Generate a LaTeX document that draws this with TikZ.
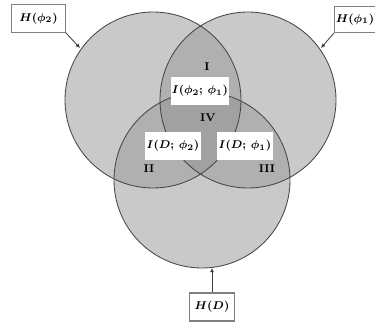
\documentclass[tikz,border=0pt]{standalone}
\usepackage{amsmath}
\usetikzlibrary{arrows.meta}
\definecolor{onegray}{gray}{.79}
\definecolor{twogray}{gray}{.69}
\definecolor{threegray}{gray}{.63}
\tikzset{
	outline/.style={draw=gray!55!black, line width=.6pt},
	entropybox/.style={draw=gray, fill=white, line width=.8pt, inner sep=1pt, font=\footnotesize\boldmath},
	mutualbox/.style={fill=white, minimum width=1.38cm, minimum height=.68cm, inner sep=1pt, font=\footnotesize\boldmath},
	region/.style={font=\footnotesize\bfseries},
	pointer/.style={draw=gray!50!black, line width=.6pt, -{Latex[length=3pt,width=3pt]}}
}
\newcommand{\setphitwo}{(153,100) circle (88)}
\newcommand{\setphione}{(248,100) circle (88)}
\newcommand{\setd}{(202,180) circle (88)}
\begin{document}
\begin{tikzpicture}[x=.025cm, y=-.025cm]
		\useasboundingbox (0,0) rectangle (375,322);
		% the three sets and their overlaps
		\fill [onegray] \setphitwo;
		\fill [onegray] \setphione;
		\fill [onegray] \setd;
		\begin{scope}
			\clip \setphitwo;
			\fill [twogray] \setphione;
			\fill [twogray] \setd;
		\end{scope}
		\begin{scope}
			\clip \setphione;
			\fill [twogray] \setd;
		\end{scope}
		\begin{scope}
			\clip \setphitwo;
			\clip \setphione;
			\fill [threegray] \setd;
		\end{scope}
		\draw [outline] \setphitwo;
		\draw [outline] \setphione;
		\draw [outline] \setd;
		% labels of the regions
		\node [region] (rone) at (207,67) {I};
		\node [region] (rfour) at (208,118) {IV};
		\node [region] (rtwo) at (149,169) {II};
		\node [region] (rthree) at (267,169) {III};
		\node [mutualbox] (iphi) at (200,91) {$I(\phi_2;\,\phi_1)$};
		\node [mutualbox] (idtwo) at (173,146) {$I(D;\,\phi_2)$};
		\node [mutualbox] (idone) at (245,146) {$I(D;\,\phi_1)$};

		% entropies of the sets
		\node [entropybox, minimum width=1.33cm, minimum height=.68cm] (hphitwo) at (38.5,18.5) {$H(\phi_2)$};
		\node [entropybox, minimum width=.95cm, minimum height=.65cm] (hphione) at (355,19.5) {$H(\phi_1)$};
		\node [entropybox, minimum width=1.13cm, minimum height=.7cm] (hd) at (212,307) {$H(D)$};
		\coordinate (tiptwo) at (80,48);
		\coordinate (tipone) at (321,48);
		\coordinate (tipd) at (212,268);
		\draw [pointer] (hphitwo.south east) -- (tiptwo);
		\draw [pointer] (hphione.south west) -- (tipone);
		\draw [pointer] (hd.north) -- (tipd);
	\end{tikzpicture}
\end{document}
